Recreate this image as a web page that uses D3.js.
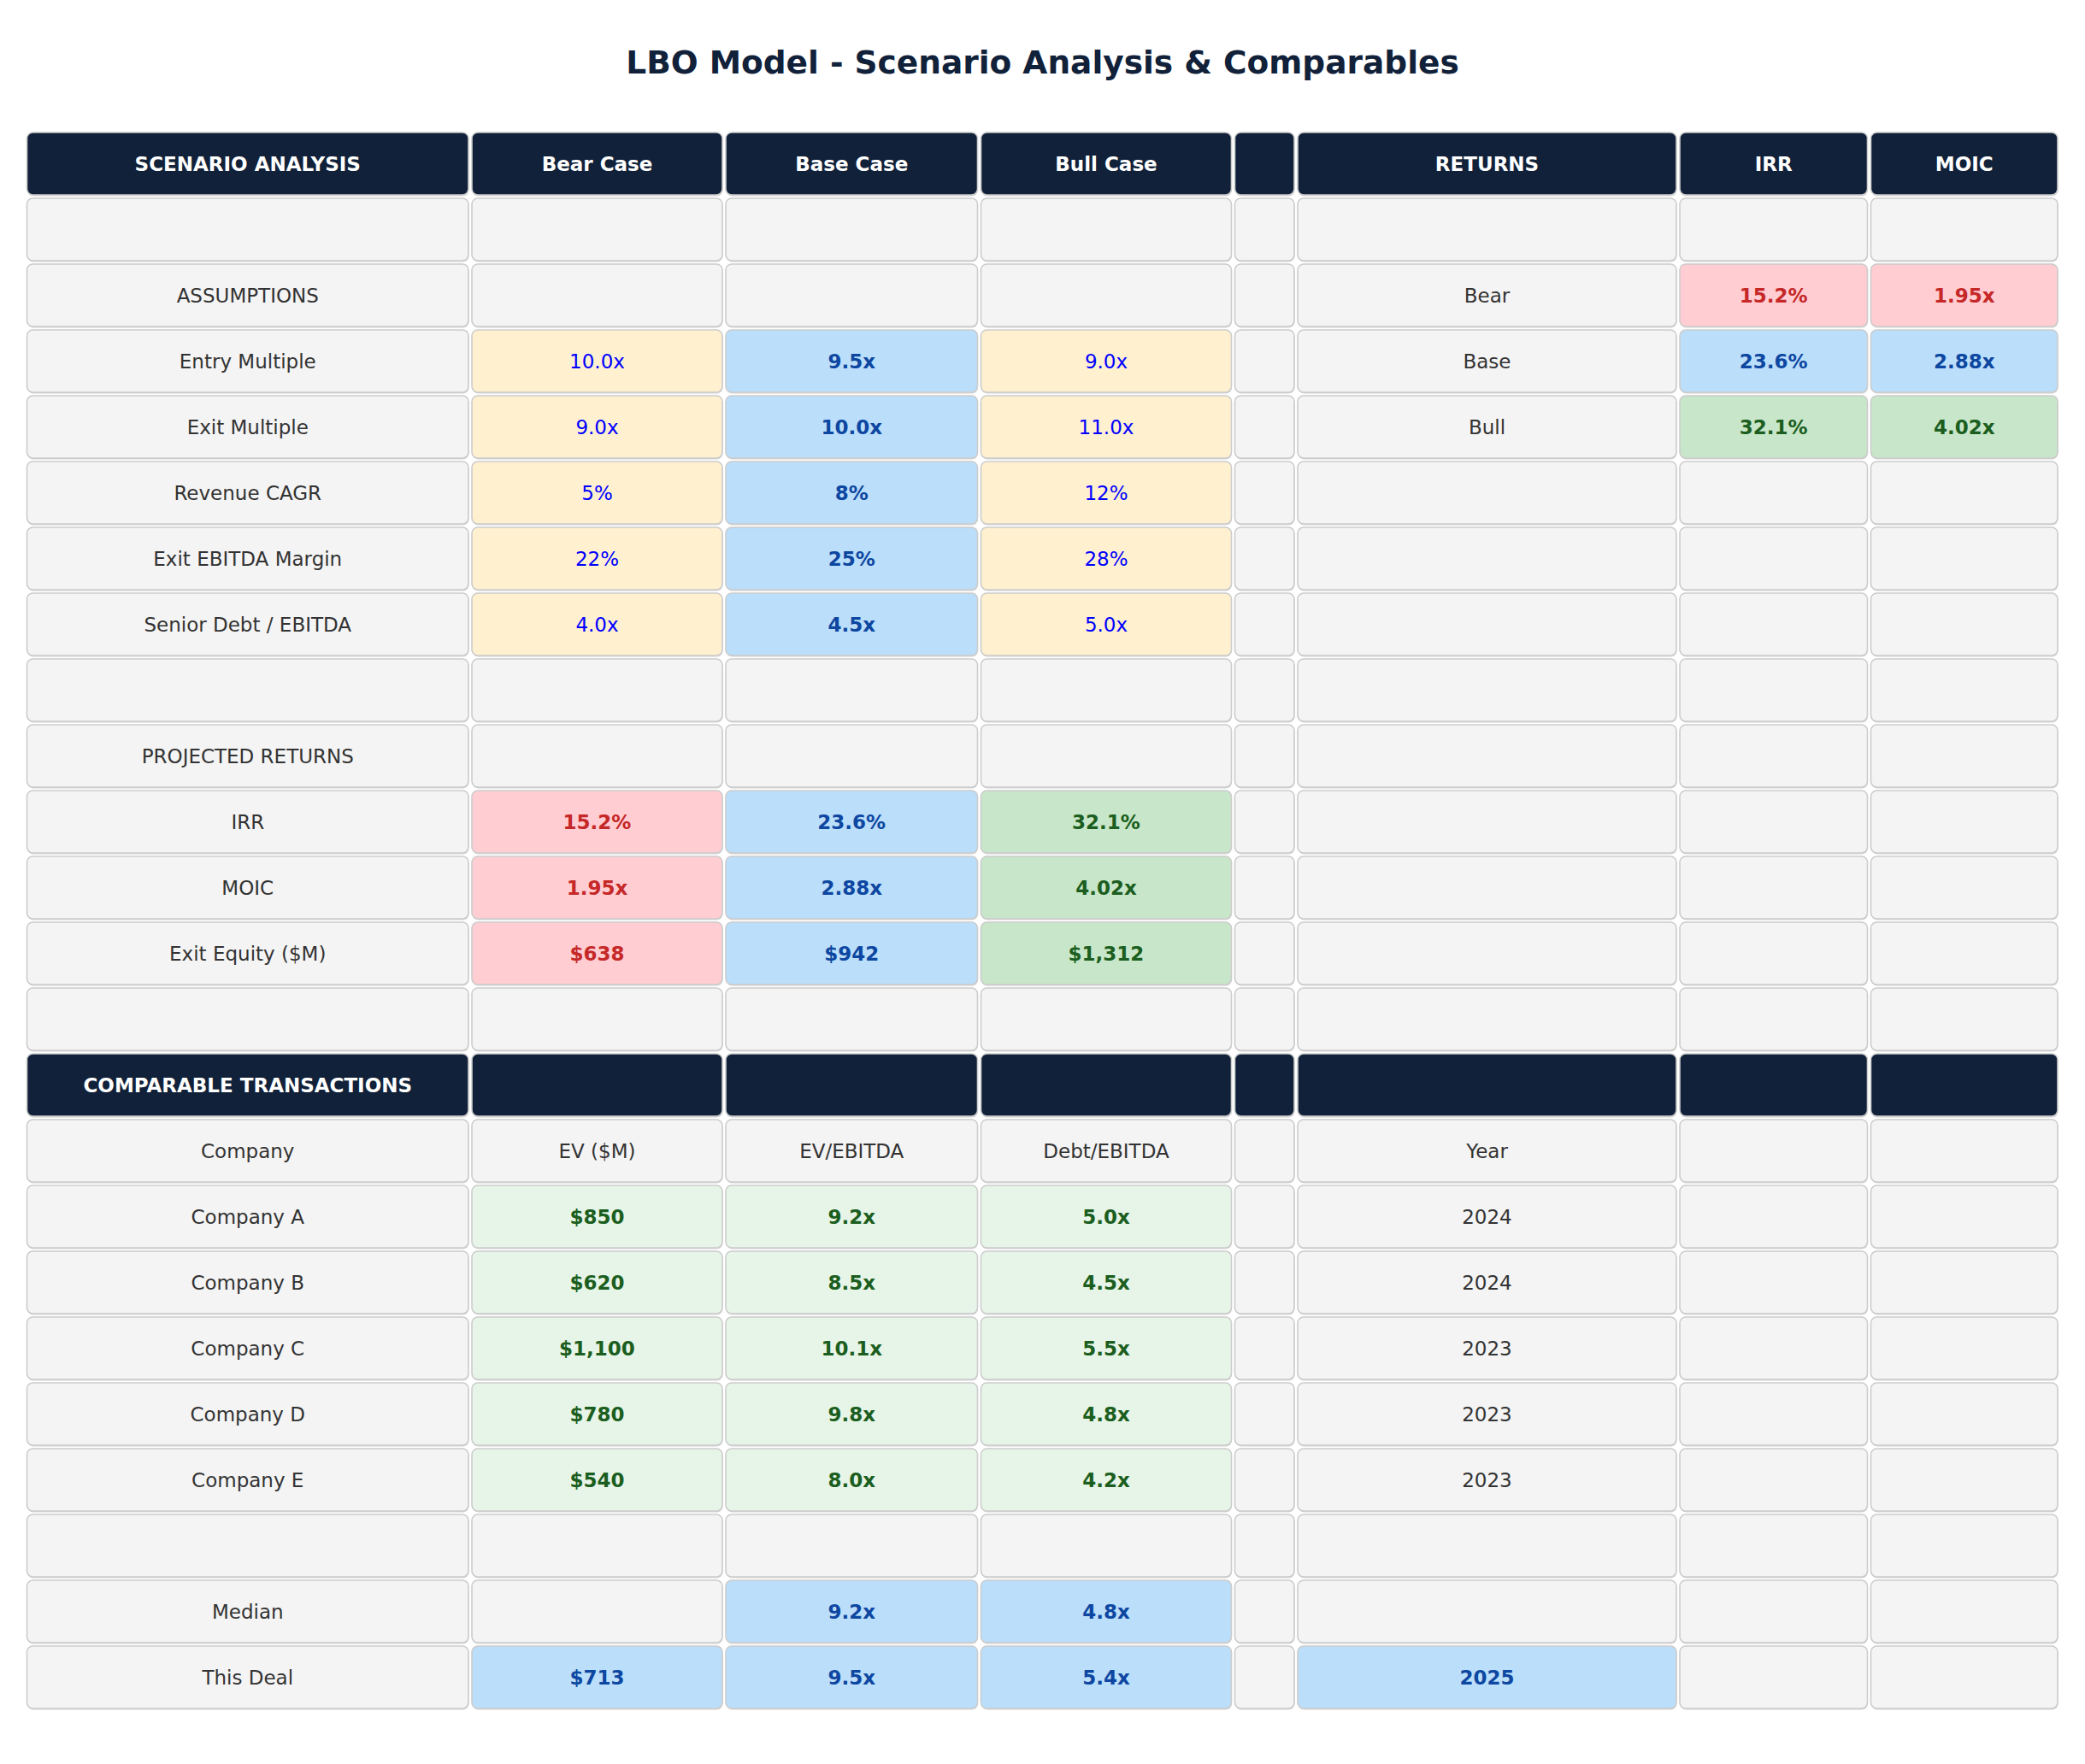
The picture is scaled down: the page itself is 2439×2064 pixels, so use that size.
<!DOCTYPE html>
<html>
<head>
<meta charset="utf-8">
<script src="https://cdn.jsdelivr.net/npm/d3@7"></script>
<style>
  body { margin: 0; background: #fff; }
  svg { display: block; font-family: "DejaVu Sans", sans-serif; }
</style>
</head>
<body>
<div id="chart"></div>
<script>
const width = 2439;
const height = 2064;

// scenario data
const scenarios = ['Bear Case', 'Base Case', 'Bull Case'];
const returnLabels = ['Bear', 'Base', 'Bull'];
const entryMultiple = [10.0, 9.5, 9.0];
const exitMultiple = [9.0, 10.0, 11.0];
const revenueCagr = [5, 8, 12];
const exitMargin = [22, 25, 28];
const seniorDebt = [4.0, 4.5, 5.0];
const irr = [15.2, 23.6, 32.1];
const moic = [1.95, 2.88, 4.02];
const exitEquity = [638, 942, 1312];

// comparable transactions
const compHeaders = ['Company', 'EV ($M)', 'EV/EBITDA', 'Debt/EBITDA', 'Year'];
const companies = ['Company A', 'Company B', 'Company C', 'Company D', 'Company E'];
const compEv = [850, 620, 1100, 780, 540];
const compEvEbitda = [9.2, 8.5, 10.1, 9.8, 8.0];
const compDebtEbitda = [5.0, 4.5, 5.5, 4.8, 4.2];
const compYear = [2024, 2024, 2023, 2023, 2023];
const medianValues = [9.2, 4.8];
const thisDeal = [713, 9.5, 5.4, 2025];

// column weights (relative)
const colWeights = [520.5, 297, 298.5, 297, 73.5, 447, 223.5, 222.5];

const styles = {
    header: { fill: '#112139', color: '#ffffff', weight: 'bold' },
    plain:  { fill: '#f4f4f4', color: '#333333', weight: 'normal' },
    input:  { fill: '#fff0cf', color: '#0000ff', weight: 'normal' },
    base:   { fill: '#bbdefa', color: '#0d47a1', weight: 'bold' },
    bear:   { fill: '#ffcdd2', color: '#c62828', weight: 'bold' },
    bull:   { fill: '#c8e6c9', color: '#1b5e20', weight: 'bold' },
    comp:   { fill: '#e7f5e8', color: '#1b5e20', weight: 'bold' }
};
const caseStyle = ['bear', 'base', 'bull'];

const fx1 = (v) => d3.format('.1f')(v) + 'x';
const fx2 = (v) => d3.format('.2f')(v) + 'x';
const fpct0 = (v) => v + '%';
const fpct1 = (v) => d3.format('.1f')(v) + '%';
const fusd = (v) => '$' + d3.format(',')(v);

// build grid rows
const c = (text, style) => ({ text: text, style: style || 'plain' });
const empty = () => d3.range(8).map(() => c(''));
const rows = [];

rows.push(['SCENARIO ANALYSIS', ...scenarios, '', 'RETURNS', 'IRR', 'MOIC'].map(t => c(t, 'header')));
rows.push(empty());

const assumptionRows = [
    ['ASSUMPTIONS', null, null],
    ['Entry Multiple', entryMultiple, fx1],
    ['Exit Multiple', exitMultiple, fx1],
    ['Revenue CAGR', revenueCagr, fpct0],
    ['Exit EBITDA Margin', exitMargin, fpct0],
    ['Senior Debt / EBITDA', seniorDebt, fx1]
];
assumptionRows.forEach((a, i) => {
    const r = empty();
    r[0] = c(a[0]);
    if (a[1]) {
        a[1].forEach((v, j) => { r[j + 1] = c(a[2](v), j === 1 ? 'base' : 'input'); });
    }
    if (i < 3) {
        r[5] = c(returnLabels[i]);
        r[6] = c(fpct1(irr[i]), caseStyle[i]);
        r[7] = c(fx2(moic[i]), caseStyle[i]);
    }
    rows.push(r);
});

rows.push(empty());
rows.push((() => { const r = empty(); r[0] = c('PROJECTED RETURNS'); return r; })());

[['IRR', irr, fpct1], ['MOIC', moic, fx2], ['Exit Equity ($M)', exitEquity, fusd]].forEach(a => {
    const r = empty();
    r[0] = c(a[0]);
    a[1].forEach((v, j) => { r[j + 1] = c(a[2](v), caseStyle[j]); });
    rows.push(r);
});

rows.push(empty());
rows.push(['COMPARABLE TRANSACTIONS', '', '', '', '', '', '', ''].map(t => c(t, 'header')));
rows.push([compHeaders[0], compHeaders[1], compHeaders[2], compHeaders[3], '', compHeaders[4], '', ''].map(t => c(t)));

companies.forEach((name, i) => {
    const r = empty();
    r[0] = c(name);
    r[1] = c(fusd(compEv[i]), 'comp');
    r[2] = c(fx1(compEvEbitda[i]), 'comp');
    r[3] = c(fx1(compDebtEbitda[i]), 'comp');
    r[5] = c(String(compYear[i]));
    rows.push(r);
});

rows.push(empty());
rows.push((() => {
    const r = empty();
    r[0] = c('Median');
    r[2] = c(fx1(medianValues[0]), 'base');
    r[3] = c(fx1(medianValues[1]), 'base');
    return r;
})());
rows.push((() => {
    const r = empty();
    r[0] = c('This Deal');
    r[1] = c(fusd(thisDeal[0]), 'base');
    r[2] = c(fx1(thisDeal[1]), 'base');
    r[3] = c(fx1(thisDeal[2]), 'base');
    r[5] = c(String(thisDeal[3]), 'base');
    return r;
})());

// scales
const tableLeft = 29.5, tableRight = 2409;
const tableTop = 153, tableBottom = 2001;
const cum = [0];
colWeights.forEach(w => cum.push(cum[cum.length - 1] + w));
const xScale = d3.scaleLinear()
    .domain([0, cum[cum.length - 1]])
    .range([tableLeft, tableRight]);

const yScale = d3.scaleBand()
    .domain(d3.range(rows.length))
    .range([tableTop, tableBottom]);

const pad = 2;

const svg = d3.select('#chart')
    .append('svg')
    .attr('width', width)
    .attr('height', height);

svg.append('rect')
    .attr('width', width)
    .attr('height', height)
    .attr('fill', '#ffffff');

svg.append('text')
    .attr('x', width / 2)
    .attr('y', 86)
    .attr('text-anchor', 'middle')
    .attr('font-size', 37.5)
    .attr('font-weight', 'bold')
    .attr('fill', '#112139')
    .text('LBO Model - Scenario Analysis & Comparables');

const cells = [];
rows.forEach((r, i) => r.forEach((cell, j) => cells.push({ row: i, col: j, text: cell.text, style: cell.style })));

const g = svg.append('g');

const cellG = g.selectAll('g.cell')
    .data(cells)
    .join('g')
    .attr('class', 'cell')
    .attr('transform', d => `translate(${xScale(cum[d.col]) + pad}, ${yScale(d.row) + pad})`);

const cw = d => xScale(cum[d.col + 1]) - xScale(cum[d.col]) - 2 * pad;
const ch = yScale.bandwidth() - 2 * pad;

// soft shadow
cellG.append('rect')
    .attr('x', 0.5)
    .attr('y', 1.5)
    .attr('width', cw)
    .attr('height', ch)
    .attr('rx', 7)
    .attr('fill', '#d4d4d4');

cellG.append('rect')
    .attr('width', cw)
    .attr('height', ch)
    .attr('rx', 7)
    .attr('fill', d => styles[d.style].fill)
    .attr('stroke', '#cccccc')
    .attr('stroke-width', 1.6);

cellG.append('text')
    .attr('x', d => cw(d) / 2)
    .attr('y', ch / 2)
    .attr('dy', '0.36em')
    .attr('text-anchor', 'middle')
    .attr('font-size', 23)
    .attr('font-weight', d => styles[d.style].weight)
    .attr('fill', d => styles[d.style].color)
    .text(d => d.text);
</script>
</body>
</html>
